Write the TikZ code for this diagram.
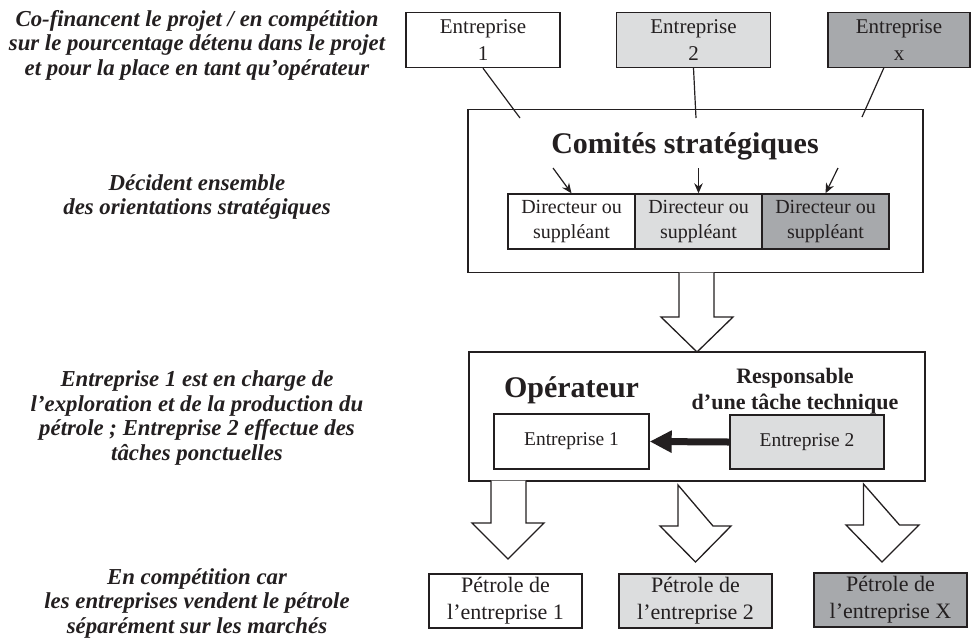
\documentclass[tikz,border=0pt]{standalone}
\usepackage{fontspec}
\setmainfont{Liberation Serif}
\usetikzlibrary{arrows.meta}
\definecolor{ink}{RGB}{35,31,32}
\definecolor{lgray}{RGB}{220,221,222}
\definecolor{dgray}{RGB}{167,169,172}
\begin{document}
\begin{tikzpicture}[x=1pt,y=-1pt,
  box/.style={draw=ink, line width=1.4pt, inner sep=0pt, text=ink, align=center},
  entbox/.style={box, minimum width=154pt, minimum height=55pt, font=\fontsize{21}{27}\selectfont},
  dirbox/.style={box, minimum width=127pt, minimum height=55pt, font=\fontsize{20}{25}\selectfont},
  petbox/.style={box, minimum width=153pt, minimum height=54pt, font=\fontsize{22}{27}\selectfont},
  bigbox/.style={draw=ink, line width=1.4pt, inner sep=0pt, fill=white},
  lefttext/.style={text=ink, align=center, inner sep=0pt, font=\bfseries\itshape\fontsize{22.8}{24.5}\selectfont},
  thin/.style={draw=ink, line width=1.2pt},
  smallarrow/.style={thin, -{Stealth[length=10pt,width=8.5pt]}},
  hollow/.style={draw=ink, line width=1.3pt, fill=white, line join=miter}
]
\useasboundingbox (0,0) rectangle (973,641);

% left texts
\node[lefttext] (t1) at (197,45) {Co-financent le projet / en compétition\\sur le pourcentage détenu dans le projet\\et pour la place en tant qu’opérateur};
\node[lefttext] (t2) at (197,197) {Décident ensemble\\des orientations stratégiques};
\node[lefttext] (t3) at (197,418) {Entreprise 1 est en charge de\\l’exploration et de la production du\\pétrole ; Entreprise 2 effectue des\\tâches ponctuelles};
\node[lefttext] (t4) at (197,603) {En compétition car\\les entreprises vendent le pétrole\\séparément sur les marchés};

% top companies
\node[entbox, fill=white] (e1) at (483,40) {Entreprise\\1};
\node[entbox, fill=lgray] (e2) at (693.5,40) {Entreprise\\2};
\node[entbox, fill=dgray, minimum width=142pt] (ex) at (899,40) {Entreprise\\x};

% strategic committee
\node[bigbox, minimum width=455pt, minimum height=163pt] (cs) at (695.5,191) {};
\node[text=ink, font=\bfseries\fontsize{30}{34}\selectfont, anchor=base, inner sep=0pt] (cst) at (685,153) {Comités stratégiques};
\node[dirbox, fill=white] (d1) at (571.5,221.5) {Directeur ou\\suppléant};
\node[dirbox, fill=lgray] (d2) at (698.5,221.5) {Directeur ou\\suppléant};
\node[dirbox, fill=dgray] (d3) at (825.5,221.5) {Directeur ou\\suppléant};

% lines from companies into the committee
\coordinate (c1) at (520,118);
\coordinate (c2) at (696,118);
\coordinate (cx) at (862,117);
\coordinate (exs) at (884,67.5);
\draw[thin] (e1.south) -- (c1);
\draw[thin] (e2.south) -- (c2);
\draw[thin] (exs) -- (cx);

% arrows to directors
\coordinate (a1) at (553,168);
\coordinate (a2) at (698.5,168);
\coordinate (a3) at (838,168);
\draw[smallarrow] (a1) -- (d1.north);
\draw[smallarrow] (a2) -- (d2.north);
\draw[smallarrow] (a3) -- (d3.north);

% hollow arrow committee -> operator
\draw[hollow] (679,272.5) -- (679,317) -- (661,317) -- (697,352) -- (733,317) -- (714,317) -- (714,272.5);

% operator box
\node[bigbox, minimum width=456pt, minimum height=129pt] (op) at (697,416.5) {};
\node[text=ink, font=\bfseries\fontsize{30}{34}\selectfont, anchor=base, inner sep=0pt] (opt) at (571.5,397) {Opérateur};
\node[text=ink, font=\bfseries\fontsize{22}{26}\selectfont, align=center, inner sep=0pt] (resp) at (795,391) {Responsable\\d’une tâche technique};
\node[box, fill=white, minimum width=155pt, minimum height=55pt, font=\fontsize{19.5}{24}\selectfont] (oe1) at (571.5,441.5) {Entreprise 1};
\node[box, fill=lgray, minimum width=154pt, minimum height=54pt, font=\fontsize{19.5}{24}\selectfont] (oe2) at (807,442) {Entreprise 2};
\draw[draw=ink, line width=7pt, -{Triangle[length=22pt,width=21pt]}] (oe2.west) -- (oe1.east);

% hollow arrows to oil
\draw[hollow] (491,480.5) -- (491,523) -- (472,523) -- (508,559) -- (544,523) -- (526,523) -- (526,480.5);
\draw[hollow] (678,485) -- (678,526) -- (660,526) -- (695.5,562) -- (731,526) -- (713,526) -- cycle;
\draw[hollow] (863.5,484) -- (863.5,525) -- (846,525) -- (882,562) -- (919,525) -- (899.5,525) -- cycle;

% oil boxes
\node[petbox, fill=white] (p1) at (505.5,601) {Pétrole de\\l’entreprise 1};
\node[petbox, fill=lgray] (p2) at (695.5,601) {Pétrole de\\l’entreprise 2};
\node[petbox, fill=dgray] (px) at (890.5,600) {Pétrole de\\l’entreprise X};
\end{tikzpicture}
\end{document}
